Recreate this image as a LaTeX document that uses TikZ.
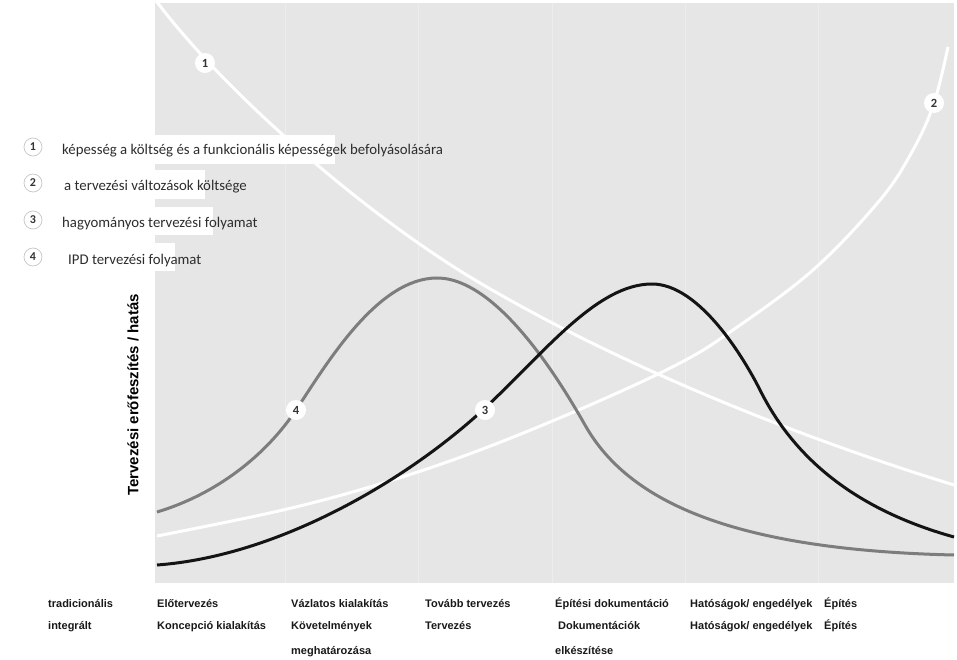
\documentclass[tikz,border=0pt]{standalone}
\usepackage{fontspec}
\setmainfont{Carlito}
\newfontfamily\arialf{Liberation Sans}
\definecolor{panelc}{RGB}{230,230,230}
\definecolor{sepc}{RGB}{237,237,237}
\definecolor{grayc}{RGB}{125,125,125}
\definecolor{legtext}{RGB}{45,45,45}
\begin{document}
\begin{tikzpicture}[x=1pt,y=-1pt,
  curvewhite/.style={white, line width=3pt},
  curveblack/.style={black!92, line width=3pt},
  curvegray/.style={grayc, line width=3pt},
  numc/.style={circle, fill=white, inner sep=0pt, minimum size=20pt, font=\bfseries\fontsize{12.5}{12.5}\selectfont, text=black!80},
  legc/.style={numc, minimum size=18pt, draw=black!22, line width=0.7pt, font=\bfseries\fontsize{12}{12}\selectfont},
  legt/.style={anchor=base west, font=\fontsize{14.8}{16}\selectfont, text=legtext, inner sep=0pt},
  phase/.style={anchor=base west, font=\arialf\bfseries\fontsize{11}{12}\selectfont, inner sep=0pt, text=black!90},
  sep/.style={sepc, line width=1pt},
  whitebox/.style={fill=white, draw=none}
]
\useasboundingbox (0,0) rectangle (957,660);
\fill[white] (0,0) rectangle (957,660);
% panel
\fill[panelc] (155,3) rectangle (954,583);
\foreach \xx in {285,418,552,685,818} \draw[sep] (\xx,3) -- (\xx,583);

% curve 1 (white, falling)
\draw[curvewhite] (157,2) .. controls (225,92) and (360,210) .. (470,277)
                  .. controls (620,367) and (804,439) .. (954,485);
% curve 2 (white, rising)
\draw[curvewhite] plot[smooth, tension=0.6] coordinates {(157,536) (283,510) (383,483) (480,450) (590,405) (680,363) (733,330) (813,270) (880,200) (913,150) (934,103) (948,47)};
% curve 4 (gray, IPD)
\draw[curvegray] (157,512) .. controls (217,494) and (266,455) .. (296,410)
                 .. controls (326,365) and (377,278) .. (437,278)
                 .. controls (500,278) and (565,390) .. (585,425)
                 .. controls (630,505) and (740,550) .. (954,555);
% curve 3 (black, traditional)
\draw[curveblack] (157,565) .. controls (280,556) and (410,478) .. (485,408)
                  .. controls (545,352) and (597,284) .. (652,284)
                  .. controls (700,284) and (745,360) .. (760,390)
                  .. controls (792,454) and (850,508) .. (954,537);

% curve labels
\node[numc] (c1) at (205,63) {1};
\node[numc] (c2) at (934,103) {2};
\node[numc] (c3) at (485,410) {3};
\node[numc] (c4) at (296,410) {4};

% legend boxes
\fill[whitebox] (0,135) rectangle (335,164);
\fill[whitebox] (0,170) rectangle (205,199);
\fill[whitebox] (0,207) rectangle (213,235);
\fill[whitebox] (0,243) rectangle (175,271);

% legend
\node[legc] (l1) at (33,147) {1};
\node[legc] (l2) at (33,183) {2};
\node[legc] (l3) at (33,220) {3};
\node[legc] (l4) at (33,257) {4};
\node[legt] (t1) at (62,155) {képesség a költség és a funkcionális képességek befolyásolására};
\node[legt] (t2) at (64,191) {a tervezési változások költsége};
\node[legt] (t3) at (62,227) {hagyományos tervezési folyamat};
\node[legt] (t4) at (68,264) {IPD tervezési folyamat};

% y axis label
\node[rotate=90, font=\arialf\bfseries\fontsize{15}{16}\selectfont, inner sep=0pt] (ylab) at (133,395) {Tervezési erőfeszítés / hatás};

% phases
\node[phase] (p1a) at (48,607) {tradicionális};
\node[phase] (p1b) at (48,629) {integrált};
\node[phase] (p2a) at (157,607) {Előtervezés};
\node[phase] (p2b) at (157,629) {Koncepció kialakítás};
\node[phase] (p3a) at (291,607) {Vázlatos kialakítás};
\node[phase] (p3b) at (291,629) {Követelmények};
\node[phase] (p3c) at (291,654) {meghatározása};
\node[phase] (p4a) at (425,607) {Tovább tervezés};
\node[phase] (p4b) at (425,629) {Tervezés};
\node[phase] (p5a) at (555,607) {Építési dokumentáció};
\node[phase] (p5b) at (558,629) {Dokumentációk};
\node[phase] (p5c) at (555,654) {elkészítése};
\node[phase] (p6a) at (690,607) {Hatóságok/ engedélyek};
\node[phase] (p6b) at (690,629) {Hatóságok/ engedélyek};
\node[phase] (p7a) at (824,607) {Építés};
\node[phase] (p7b) at (824,629) {Építés};
\end{tikzpicture}
\end{document}
